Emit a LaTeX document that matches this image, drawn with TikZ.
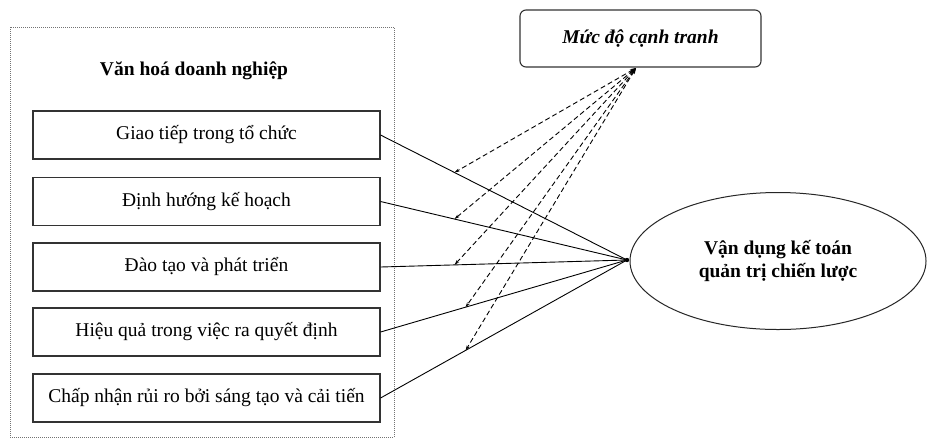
\documentclass[tikz,border=0pt]{standalone}
\usepackage{fontspec}
\setmainfont{Liberation Serif}
\usetikzlibrary{shapes.geometric,arrows.meta}
\begin{document}
\begin{tikzpicture}[x=1pt,y=-1pt,
  itembox/.style={draw=black!80,line width=1.1pt,minimum width=347pt,minimum height=48pt,inner sep=0pt,font=\fontsize{19.5}{22}\selectfont},
  link/.style={draw=black,line width=0.9pt},
  modlink/.style={draw=black,line width=0.9pt,dash pattern=on 5pt off 3pt,{Stealth[length=6pt,width=4pt]}-{Stealth[length=5pt,width=3pt]}}]
\useasboundingbox (0,0) rectangle (928,440);
\fill[white] (0,0) rectangle (928,440);
% outer dotted frame
\draw[black!55,densely dotted,line width=1pt] (10,27) rectangle (394,437);
\node[font=\fontsize{19.5}{22}\selectfont\bfseries] (title) at (194,71) {Văn hoá doanh nghiệp};
% item boxes
\node[itembox] (b1) at (206.5,135) {Giao tiếp trong tổ chức};
\node[itembox] (b2) at (206.5,201.5) {Định hướng kế hoạch};
\node[itembox] (b3) at (206.5,267) {Đào tạo và phát triển};
\node[itembox] (b4) at (206.5,332) {Hiệu quả trong việc ra quyết định};
\node[itembox] (b5) at (206.5,398) {Chấp nhận rủi ro bởi sáng tạo và cải tiến};
% moderator
\node[draw=black!80,line width=1.1pt,rounded corners=6pt,minimum width=241pt,minimum height=57pt,inner sep=0pt,font=\fontsize{19.5}{22}\selectfont\bfseries\itshape] (mod) at (640.5,38.5) {Mức độ cạnh tranh};
% outcome ellipse
\node[draw=black!85,line width=1pt,ellipse,minimum width=296pt,minimum height=137pt,inner sep=0pt,align=center,font=\fontsize{19.5}{23}\selectfont\bfseries] (out) at (778,261) {Vận dụng kế toán\\quản trị chiến lược};
% hub
\coordinate (hub) at (627,260);
\fill (hub) circle (2.2pt);
% solid paths
\draw[link] (b1.east) -- coordinate[pos=0.30] (p1) (hub);
\draw[link] (b2.east) -- coordinate[pos=0.30] (p2) (hub);
\draw[link] (b3.east) -- coordinate[pos=0.30] (p3) (hub);
\draw[link] (b4.east) -- coordinate[pos=0.345] (p4) (hub);
\draw[link] (b5.east) -- coordinate[pos=0.345] (p5) (hub);
% moderation arrows
\coordinate (m) at (636,68);
\foreach \p in {p1,p2,p3,p4,p5}
  \draw[modlink] (m) -- (\p);
\end{tikzpicture}
\end{document}
